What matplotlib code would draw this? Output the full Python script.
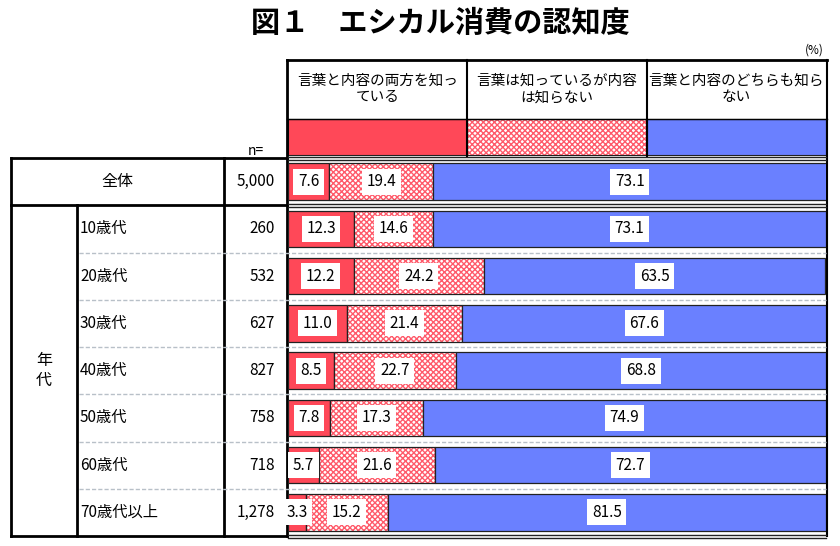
import matplotlib
matplotlib.use('Agg')
import matplotlib.pyplot as plt
from matplotlib.patches import Rectangle
import numpy as np

plt.rcParams['font.family'] = ['Noto Sans CJK JP', 'DejaVu Sans']
plt.rcParams['hatch.linewidth'] = 1.0

# data
title = "図１　エシカル消費の認知度"
series_names = ["言葉と内容の両方を知っ\nている", "言葉は知っているが内容\nは知らない", "言葉と内容のどちらも知ら\nない"]
row_labels = ["全体", "10歳代", "20歳代", "30歳代", "40歳代", "50歳代", "60歳代", "70歳代以上"]
n_values = ["5,000", "260", "532", "627", "827", "758", "718", "1,278"]
know_both = [7.6, 12.3, 12.2, 11.0, 8.5, 7.8, 5.7, 3.3]
know_word = [19.4, 14.6, 24.2, 21.4, 22.7, 17.3, 21.6, 15.2]
know_none = [73.1, 73.1, 63.5, 67.6, 68.8, 74.9, 72.7, 81.5]

RED = "#FF4858"
HATCH_RED = "#FF5A6A"
BLUE = "#6A80FF"
EDGE = "#222222"

W, H = 840, 546
fig = plt.figure(figsize=(W / 100, H / 100), dpi=100)

# overlay in pixel coordinates for the table frame and texts
ov = fig.add_axes([0, 0, 1, 1])
ov.set_xlim(0, W)
ov.set_ylim(H, 0)
ov.axis('off')

x_l, x_grp, x_lab, x_n, x_bar, x_r = 11, 77, 224, 287, 288, 826
y_top_tab = 158
row_h = 47.25
bounds = [y_top_tab + row_h * k for k in range(len(row_labels) + 1)]
centers = [(bounds[k] + bounds[k + 1]) / 2 for k in range(len(row_labels))]

ov.text(440, 23, title, ha='center', va='center', fontsize=21, fontweight='bold')
ov.text(824, 50, "(%)", ha='right', va='center', fontsize=8.5)

# header box
lw_thick = 2.0
ov.plot([x_n, x_r + 1], [60, 60], color='black', lw=lw_thick)
ov.plot([x_n, x_n], [60, bounds[-1]], color='black', lw=lw_thick)
ov.plot([x_r + 1, x_r + 1], [60, bounds[-1]], color='black', lw=1.5)
col_x = [x_bar + (x_r - x_bar) * f for f in (0, 1 / 3, 2 / 3, 1)]
for cx in col_x[1:3]:
    ov.plot([cx, cx], [60, 156], color='black', lw=1.5)
ov.plot([x_n, x_r + 1], [118.5, 118.5], color='black', lw=1.0)
for i, name in enumerate(series_names):
    ov.text((col_x[i] + col_x[i + 1]) / 2, 89, name, ha='center', va='center',
            fontsize=10.5, linespacing=1.2)
# legend swatches
sw_y0, sw_y1 = 119, 155
ov.add_patch(Rectangle((col_x[0], sw_y0), col_x[1] - col_x[0], sw_y1 - sw_y0,
                       facecolor=RED, edgecolor=EDGE, lw=0.8))
ov.add_patch(Rectangle((col_x[1], sw_y0), col_x[2] - col_x[1], sw_y1 - sw_y0,
                       facecolor='white', edgecolor=HATCH_RED, hatch='xxxxxx', lw=0))
ov.add_patch(Rectangle((col_x[1], sw_y0), col_x[2] - col_x[1], sw_y1 - sw_y0,
                       fill=False, edgecolor=EDGE, lw=0.8))
ov.add_patch(Rectangle((col_x[2], sw_y0), col_x[3] - col_x[2], sw_y1 - sw_y0,
                       facecolor=BLUE, edgecolor=EDGE, lw=0.8))

ov.text(256, 151, "n=", ha='center', va='center', fontsize=10)

# left table frame
ov.plot([x_l, x_n], [bounds[0], bounds[0]], color='black', lw=lw_thick)
ov.plot([x_l, x_n], [bounds[1], bounds[1]], color='black', lw=lw_thick)
ov.plot([x_l, x_n], [bounds[-1], bounds[-1]], color='black', lw=lw_thick)
ov.plot([x_l, x_l], [bounds[0], bounds[-1]], color='black', lw=lw_thick)
ov.plot([x_lab, x_lab], [bounds[0], bounds[-1]], color='black', lw=lw_thick)
ov.plot([x_grp, x_grp], [bounds[1], bounds[-1]], color='black', lw=lw_thick)
# double lines in bar area
for yb in (bounds[0], bounds[1], bounds[-1]):
    ov.plot([x_bar, x_r], [yb - 1.5, yb - 1.5], color=EDGE, lw=1.0)
    ov.plot([x_bar, x_r], [yb + 1.5, yb + 1.5], color=EDGE, lw=1.0)
# dashed separators between age rows
for yb in bounds[2:-1]:
    ov.plot([x_grp + 2, x_r], [yb, yb], color='#b8c0c8', lw=1.0, ls=(0, (3, 1.5)))

ov.text((x_l + x_lab) / 2, centers[0], row_labels[0], ha='center', va='center', fontsize=11.5)
ov.text(44, (bounds[1] + bounds[-1]) / 2, "年\n代", ha='center', va='center',
        fontsize=11.5, linespacing=1.2)
for k, lab in enumerate(row_labels[1:], start=1):
    ov.text(x_grp + 3, centers[k], lab, ha='left', va='center', fontsize=11)
for k, nv in enumerate(n_values):
    ov.text(x_n - 12, centers[k], nv, ha='right', va='center', fontsize=11)

# bar axes
axb = fig.add_axes([x_bar / W, 1 - bounds[-1] / H, (x_r - x_bar) / W, (bounds[-1] - bounds[0]) / H])
axb.patch.set_alpha(0)
axb.axis('off')
y = np.arange(len(row_labels))
a = np.array(know_both)
b = np.array(know_word)
c = np.array(know_none)
h = 0.77
axb.barh(y, a, height=h, color=RED, edgecolor=EDGE, lw=0.9)
axb.barh(y, b, left=a, height=h, color='white', edgecolor=HATCH_RED, hatch='xxxxxx', lw=0)
axb.barh(y, b, left=a, height=h, fill=False, edgecolor=EDGE, lw=0.9)
axb.barh(y, c, left=a + b, height=h, color=BLUE, edgecolor=EDGE, lw=0.9)
axb.set_xlim(0, 100)
axb.set_ylim(len(row_labels) - 0.5, -0.5)

box = dict(boxstyle='square,pad=0.3', facecolor='white', edgecolor='none')
for i in range(len(y)):
    for left, val in ((0, a[i]), (a[i], b[i]), (a[i] + b[i], c[i])):
        axb.text(left + val / 2, y[i], f"{val:.1f}", ha='center', va='center',
                 fontsize=11, bbox=box, clip_on=False)

fig.savefig("out.png", dpi=100)
